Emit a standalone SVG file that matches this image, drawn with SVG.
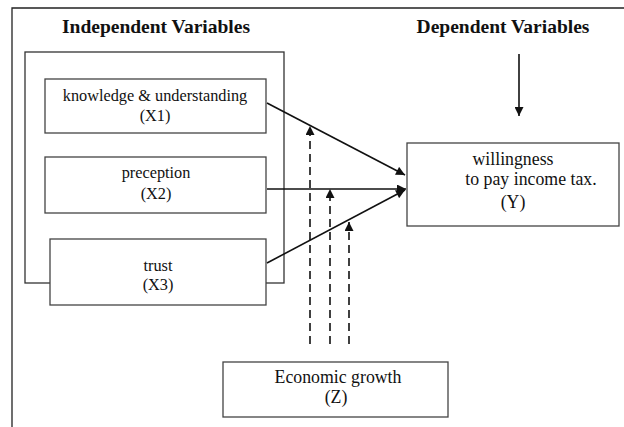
<svg xmlns="http://www.w3.org/2000/svg" width="624" height="427" viewBox="0 0 624 427">
<style>
.box{fill:#fff;stroke:#444;stroke-width:1.3}
.frame{fill:none;stroke:#222;stroke-width:1.3}
.t{font-family:'Liberation Serif','Times New Roman',serif;font-size:16.3px;fill:#111;text-anchor:middle}
.l{font-size:17.8px}
.h{font-family:'Liberation Serif','Times New Roman',serif;font-size:19.5px;font-weight:bold;fill:#111;text-anchor:middle}
.c{stroke:#111;stroke-width:1.6;fill:none}
.d{stroke:#111;stroke-width:1.6;fill:none;stroke-dasharray:8,5}
</style>
<defs>
<marker id="ah" viewBox="0 0 10 10" refX="10" refY="5" markerWidth="10" markerHeight="9" markerUnits="userSpaceOnUse" orient="auto">
<path d="M0,0 L10,5 L0,10 Z" fill="#111"/>
</marker>
</defs>
<rect width="624" height="427" fill="#fff"/>
<path class="frame" d="M12,427 V8 H624"/>
<text class="h" x="156" y="33">Independent Variables</text>
<text class="h" x="503" y="33">Dependent Variables</text>
<rect class="frame" x="25" y="52" width="259" height="231" style="stroke:#333"/>
<g id="x1"><rect class="box" x="45" y="79" width="221" height="54"/>
<text class="t" x="155" y="101">knowledge &amp; understanding</text>
<text class="t" x="155" y="121">(X1)</text></g>
<g id="x2"><rect class="box" x="45" y="157" width="221" height="56"/>
<text class="t" x="156" y="178">preception</text>
<text class="t" x="156" y="199">(X2)</text></g>
<g id="x3"><rect class="box" x="50" y="239" width="216" height="66"/>
<text class="t" x="158" y="271">trust</text>
<text class="t" x="158" y="290">(X3)</text></g>
<g id="y"><rect class="box" x="407" y="143" width="212" height="83"/>
<text class="t l" x="513" y="165">willingness</text>
<text class="t l" x="531" y="185">to pay income tax.</text>
<text class="t l" x="513" y="208">(Y)</text></g>
<g id="z"><rect class="box" x="223" y="362" width="225" height="55"/>
<text class="t l" x="338" y="383">Economic growth</text>
<text class="t l" x="336" y="403">(Z)</text></g>
<g id="connectors">
<line class="c" x1="519" y1="54" x2="519" y2="116" marker-end="url(#ah)"/>
<line class="c" x1="267" y1="103" x2="405" y2="175" marker-end="url(#ah)"/>
<line class="c" x1="267" y1="189" x2="406" y2="189" marker-end="url(#ah)"/>
<line class="c" x1="267" y1="263" x2="405" y2="190" marker-end="url(#ah)"/>
<line class="d" x1="310" y1="344" x2="310" y2="126" marker-end="url(#ah)"/>
<line class="d" x1="330" y1="344" x2="330" y2="189" marker-end="url(#ah)"/>
<line class="d" x1="349" y1="344" x2="349" y2="222" marker-end="url(#ah)"/>
</g>
</svg>
